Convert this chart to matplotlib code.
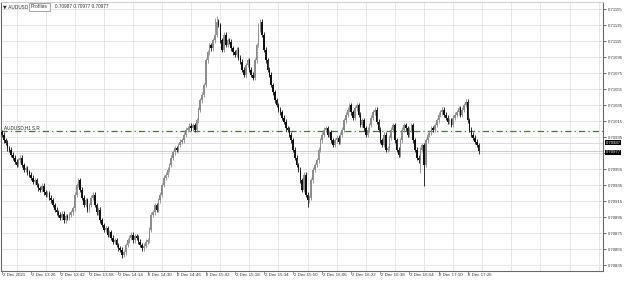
import matplotlib.pyplot as plt

plt.rcParams["font.family"] = ["Liberation Sans Narrow", "Liberation Sans", "DejaVu Sans"]

# --- data (prices in points, 1 point = 0.00001) ---
symbol = "AUDUSD"
header_prices = ["0.70987", "0.70977", "0.70977"]
first_open = 71001
closes = [
    70998, 70991, 70988, 70981, 70979, 70973, 70969, 70964, 70960, 70966,
    70969, 70960, 70954, 70956, 70951, 70948, 70944, 70939, 70941, 70935,
    70931, 70929, 70934, 70926, 70923, 70925, 70919, 70916, 70910, 70904,
    70901, 70898, 70894, 70899, 70891, 70896, 70894, 70898, 70901, 70906,
    70923, 70935, 70941, 70929, 70919, 70910, 70916, 70904, 70910, 70919,
    70923, 70910, 70901, 70904, 70891, 70885, 70879, 70881, 70873, 70876,
    70869, 70864, 70866, 70860, 70856, 70854, 70848, 70851, 70860, 70866,
    70869, 70873, 70866, 70871, 70869, 70864, 70860, 70856, 70859, 70864,
    70866, 70879, 70898, 70901, 70910, 70904, 70916, 70923, 70935, 70944,
    70948, 70954, 70960, 70969, 70976, 70981, 70979, 70985, 70989, 70991,
    70998, 71004, 71006, 71009, 71006, 71010, 71004, 71016, 71029, 71041,
    71048, 71060, 71091, 71101, 71110, 71106, 71116, 71123, 71139, 71135,
    71116, 71104, 71123, 71110, 71116, 71114, 71106, 71101, 71098, 71104,
    71094, 71089, 71079, 71073, 71085, 71091, 71079, 71073, 71069, 71091,
    71110, 71129, 71139, 71123, 71104, 71091, 71079, 71073, 71060, 71051,
    71041, 71035, 71029, 71026, 71019, 71014, 71006, 71004, 70998, 70991,
    70979, 70969, 70960, 70954, 70941, 70929, 70948, 70923, 70916, 70919,
    70941, 70954, 70960, 70966, 70979, 70991, 70998, 71004, 71006, 70998,
    71001, 70991, 70985, 70991, 70994, 70989, 70998, 71004, 71016, 71023,
    71029, 71035, 71026, 71019, 71031, 71035, 71023, 71010, 71016, 71006,
    70998, 71004, 71010, 71019, 71026, 71029, 71014, 71004, 70991, 70985,
    70998, 70979, 70981, 70994, 71004, 71010, 70991, 70979, 70973, 70991,
    71004, 71010, 71006, 70998, 71004, 71010, 70991, 70979, 70969, 70966,
    70979, 70985, 70960, 70991, 70998, 71001, 71006, 71004, 71010, 71016,
    71023, 71026, 71029, 71023, 71019, 71014, 71016, 71010, 71019, 71023,
    71026, 71031, 71023, 71029, 71035, 71039, 71016, 71004, 70998, 70994,
    70989, 70985, 70977,
]
# notable wick extremes
high_marks = {117: 71144, 118: 71146, 141: 71138, 142: 71142, 255: 71042}
low_marks = {66: 70844, 168: 70907, 232: 70934, 230: 70950}
wick_tail = 3

level_price = 71002
level_label = "AUDUSD,H1 S,R"
ask_price = 70987
bid_price = 70977

price_ticks = [70835, 70855, 70875, 70895, 70915, 70935, 70955, 70975, 70995,
               71015, 71035, 71055, 71075, 71095, 71115, 71135, 71155]
hidden_tick = 70975  # covered by the current price markers
time_ticks = [0, 16, 32, 48, 64, 80, 96, 112, 128, 144, 160, 176, 192, 208, 224, 240, 256]
time_labels = ["2 Dec 2021", "2 Dec 13:26", "2 Dec 13:42", "2 Dec 13:58", "2 Dec 14:14",
               "2 Dec 14:30", "2 Dec 14:46", "2 Dec 15:02", "2 Dec 15:18", "2 Dec 15:34",
               "2 Dec 15:50", "2 Dec 16:06", "2 Dec 16:22", "2 Dec 16:38", "2 Dec 16:54",
               "2 Dec 17:10", "2 Dec 17:26"]

# --- figure ---
fig = plt.figure(figsize=(6.25, 2.82), dpi=100)
ax = fig.add_axes([1 / 625, 11 / 282, 602 / 625, 269 / 282])
ax.set_xlim(-0.55, 330.4)
ax.set_ylim(70827.5, 71163.75)

grid_c = "#e2e2e2"
for p in price_ticks:
    ax.axhline(p, color=grid_c, lw=0.6, zorder=0)
for t in range(8, 331, 16):
    ax.axvline(t, color=grid_c, lw=0.6, zorder=0)

opens = [first_open] + closes[:-1]
for i, (o, c) in enumerate(zip(opens, closes)):
    hi = high_marks.get(i, max(o, c) + wick_tail)
    lo = low_marks.get(i, min(o, c) - wick_tail)
    col = "#8c8c8c" if c >= o else "#111111"
    ax.vlines(i, lo, hi, color=col, lw=0.6, zorder=2)
    body = max(abs(c - o), 1.0)
    ax.bar(i, body, bottom=min(o, c), width=0.85, color=col, lw=0, zorder=3)

# support / resistance level
ax.axhline(level_price, color="#3d7a2e", lw=0.9, ls=(0, (5, 2.5, 1, 2.5)), zorder=1)
ax.text(1, level_price + 2, level_label, fontsize=3.3, color="#222222",
        va="bottom", ha="left")

# bid / ask lines
ax.axhline(ask_price, color="#d4d4d4", lw=0.6, zorder=1)
ax.axhline(bid_price, color="#c4c4c4", lw=0.6, zorder=1)

# axes frame
for side in ["left", "bottom", "right", "top"]:
    ax.spines[side].set_color("#6a6a6a")
    ax.spines[side].set_linewidth(0.8)
ax.spines["top"].set_color("#d0d0d0")

ax.yaxis.tick_right()
ax.set_yticks(price_ticks)
ax.set_yticklabels(["" if p == hidden_tick else f"{p / 100000:.5f}" for p in price_ticks])
ax.tick_params(axis="y", length=2.5, width=0.5, pad=1.0, labelsize=3.1,
               colors="#333333")
ax.set_xticks([])

for t, lab in zip(time_ticks, time_labels):
    ax.plot([t, t], [70827.5, 70827.5 - 4], color="#6a6a6a", lw=0.5, clip_on=False)
    ax.text(t + 0.4, 70827.5 - 2.5, lab, fontsize=3.2, color="#333333",
            ha="left", va="top", clip_on=False)

# current price markers on the price scale
for p, dy in [(ask_price, 1.0), (bid_price, -1.0)]:
    ax.text(1.004, p + dy, f"{p / 100000:.5f}", transform=ax.get_yaxis_transform(),
            fontsize=3.1, color="white", ha="left", va="center",
            bbox=dict(boxstyle="square,pad=0.1", fc="black", ec="black", lw=0))

# header
fig.text(3 / 625, 1 - 7 / 282, "\u25bc " + symbol, fontsize=3.4, color="#333333",
         va="center", ha="left", family=["DejaVu Sans"])
fig.text(31 / 625, 1 - 7 / 282, "Profiles", fontsize=3.6, color="#333333",
         va="center", ha="left",
         bbox=dict(boxstyle="square,pad=0.35", fc="white", ec="#9a9a9a", lw=0.6))
fig.text(55 / 625, 1 - 7 / 282, " ".join(header_prices), fontsize=3.4,
         color="#333333", va="center", ha="left")

fig.savefig("out.png", dpi=100)
